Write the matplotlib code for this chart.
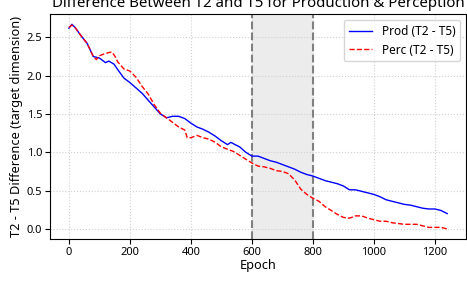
import matplotlib
matplotlib.use("Agg")
import matplotlib.pyplot as plt

plt.rcParams['font.family'] = ['Noto Sans', 'DejaVu Sans']

prod_epochs = [0, 10, 20, 40, 60, 80, 100, 120, 131, 148, 160, 180, 200, 220, 240, 260, 280, 300,
               320, 340, 360, 380, 400, 420, 440, 460, 480, 500, 520, 531, 540, 560, 580, 600,
               620, 640, 660, 680, 700, 720, 740, 760, 780, 800, 820, 840, 860, 880, 900, 920,
               940, 960, 980, 1000, 1020, 1040, 1060, 1080, 1100, 1120, 1140, 1160, 1180, 1200,
               1220, 1240]
prod_vals = [2.62, 2.67, 2.63, 2.52, 2.42, 2.25, 2.23, 2.17, 2.19, 2.15, 2.08, 1.97, 1.91, 1.84,
             1.77, 1.68, 1.59, 1.50, 1.45, 1.47, 1.47, 1.44, 1.38, 1.33, 1.30, 1.26, 1.21, 1.15,
             1.10, 1.13, 1.11, 1.07, 1.00, 0.95, 0.95, 0.92, 0.89, 0.87, 0.84, 0.81, 0.78, 0.74,
             0.71, 0.69, 0.66, 0.63, 0.61, 0.59, 0.56, 0.51, 0.51, 0.49, 0.47, 0.45, 0.42, 0.38,
             0.36, 0.34, 0.32, 0.31, 0.29, 0.27, 0.26, 0.26, 0.24, 0.20]

perc_epochs = [0, 10, 20, 40, 60, 80, 90, 100, 120, 140, 150, 160, 180, 200, 220, 240, 260, 280,
               300, 320, 340, 360, 380, 388, 400, 420, 440, 460, 480, 500, 520, 540, 560, 580,
               600, 620, 640, 660, 680, 700, 720, 740, 760, 780, 800, 820, 840, 860, 880, 900,
               920, 940, 960, 980, 1000, 1020, 1040, 1060, 1080, 1100, 1120, 1140, 1160, 1180,
               1200, 1220, 1240]
perc_vals = [2.63, 2.66, 2.63, 2.52, 2.42, 2.25, 2.21, 2.26, 2.29, 2.31, 2.26, 2.18, 2.09, 2.06,
             1.98, 1.86, 1.76, 1.62, 1.51, 1.45, 1.39, 1.33, 1.29, 1.19, 1.19, 1.22, 1.19, 1.17,
             1.13, 1.07, 1.04, 1.01, 0.96, 0.91, 0.86, 0.82, 0.81, 0.79, 0.76, 0.75, 0.72, 0.64,
             0.52, 0.45, 0.40, 0.36, 0.29, 0.24, 0.19, 0.15, 0.14, 0.17, 0.17, 0.14, 0.12, 0.10,
             0.10, 0.08, 0.07, 0.06, 0.06, 0.06, 0.04, 0.02, 0.02, 0.02, 0.00]

span_start, span_end = 600, 800

fig = plt.figure(figsize=(4.67, 2.82), dpi=100)
ax = fig.add_axes([0.107, 0.152, 0.891, 0.798])

ax.axvspan(span_start, span_end, color='gray', alpha=0.15, lw=0)
ax.axvline(span_start, color='gray', linestyle='--', lw=1.5)
ax.axvline(span_end, color='gray', linestyle='--', lw=1.5)

ax.plot(prod_epochs, prod_vals, color='blue', lw=1.0, label='Prod (T2 - T5)')
ax.plot(perc_epochs, perc_vals, color='red', lw=1.0, linestyle='--', label='Perc (T2 - T5)')

ax.grid(True, linestyle=':', color='#d0d0d0', lw=0.8)
ax.set_xlabel('Epoch', fontsize=9.2, labelpad=1)
ax.set_ylabel('T2 - T5 Difference (target dimension)', fontsize=9.2, labelpad=3)
ax.set_title('Difference Between T2 and T5 for Production & Perception', fontsize=10.8, pad=5)
ax.tick_params(labelsize=8, pad=2)
ax.legend(loc='upper right', fontsize=8.5)

fig.savefig('out.png', dpi=100)
